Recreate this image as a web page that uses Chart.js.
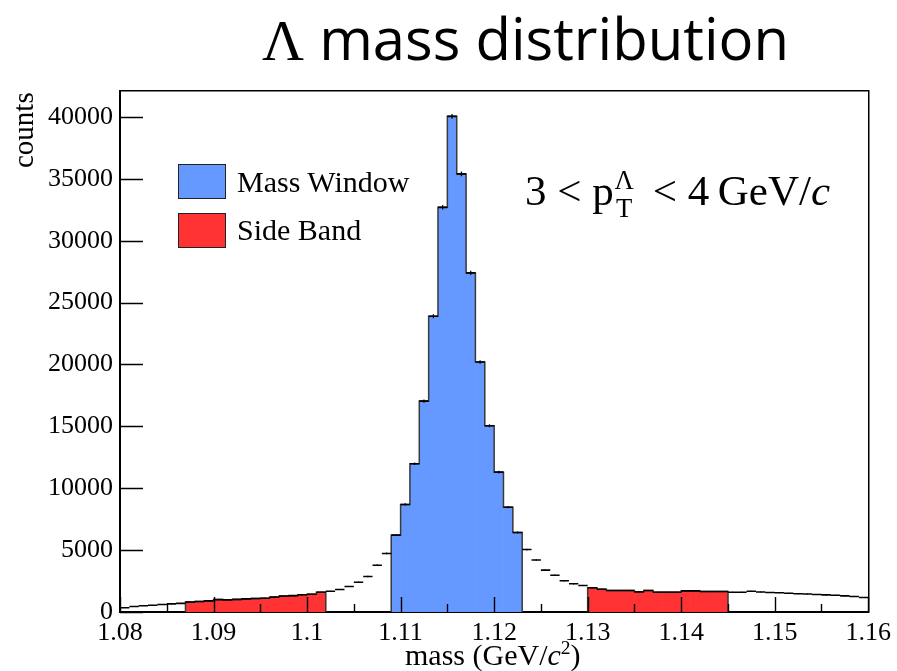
<!DOCTYPE html>
<html>
<head>
<meta charset="utf-8">
<script src="https://cdn.jsdelivr.net/npm/chart.js@4/dist/chart.umd.min.js"></script>
<style>
  html, body { margin: 0; padding: 0; background: #fff; }
  #wrap { position: relative; width: 897px; height: 671px; overflow: hidden; }
  canvas { position: absolute; left: 0; top: 0; }
  .txt { position: absolute; white-space: nowrap; line-height: 1; color: #000; }
  .serif { font-family: "Liberation Serif", "DejaVu Serif", serif; }
  .sans { font-family: "Open Sans", "Noto Sans", sans-serif; }
  .box { position: absolute; border: 1px solid #222; box-sizing: border-box; }
  .ss { display: inline-block; font-size: 0.62em; line-height: 1.05; vertical-align: -0.45em; margin: 0 0.3em 0 0.03em; }
  .ss span { display: block; text-align: center; }
</style>
</head>
<body>
<div id="wrap">
  <canvas id="c" width="897" height="671"></canvas>

  <div class="txt sans" id="title" style="left:262px; top:9px; font-size:58px;"><span class="serif">Λ</span> mass distribution</div>

  <div class="txt serif" id="ylab" style="left:9px; top:168px; font-size:29px; transform-origin:0 0; transform:rotate(-90deg);">counts</div>
  <div class="txt serif" id="xlab" style="left:405px; top:638px; font-size:30px;">mass (GeV/<i>c</i><sup style="font-size:0.65em;">2</sup>)</div>

  <div class="box" style="left:178px; top:164px; width:48px; height:35px; background:#6699ff;"></div>
  <div class="txt serif" style="left:237px; top:167px; font-size:30px;">Mass Window</div>
  <div class="box" style="left:178px; top:213px; width:48px; height:35px; background:#ff3333;"></div>
  <div class="txt serif" style="left:237px; top:215px; font-size:30px;">Side Band</div>

  <div class="txt serif" id="ptlab" style="left:525px; top:166px; font-size:43px;">3 &lt; p<span class="ss"><span>Λ</span><span>T</span></span> &lt; 4&#8201;GeV/<i>c</i></div>
</div>

<script>
// Histogram binning (GeV/c^2)
const histRange = [1.08, 1.16];
const binWidth = 0.001;

// Entries per 1 MeV bin, from 1.080 to 1.160
const counts = [
  340, 450, 500, 550, 600, 660, 700, 800, 850, 900,
  1000, 980, 1020, 1060, 1090, 1110, 1200, 1280, 1320, 1390,
  1430, 1600, 1680, 1820, 2060, 2410, 2870, 3780, 4730,
  6210, 8690, 11980, 17040, 23900, 32700, 40050, 35400, 27400, 20200, 15050, 11300, 8470, 6430,
  5050, 4200, 3380, 2970, 2520, 2280, 2140,
  1960, 1840, 1740, 1740, 1740, 1630, 1740, 1600, 1600, 1600, 1710, 1710, 1660, 1660, 1660,
  1600, 1600, 1680, 1620, 1580, 1550, 1520, 1480, 1450, 1420, 1380, 1350, 1300, 1250, 1170
];

// Selection regions
const massWindow = [1.109, 1.123];
const sideBands = [[1.087, 1.102], [1.130, 1.145]];

// Axis ticks
const xTicks = [1.08, 1.09, 1.10, 1.11, 1.12, 1.13, 1.14, 1.15, 1.16];
const yTicks = [0, 5000, 10000, 15000, 20000, 25000, 30000, 35000, 40000];
const yMax = 42100;

const eps = 1e-9;
const binLo = i => histRange[0] + i * binWidth;
const binHi = i => histRange[0] + (i + 1) * binWidth;
const binMid = i => histRange[0] + (i + 0.5) * binWidth;
const inRange = (i, r) => binLo(i) >= r[0] - eps && binHi(i) <= r[1] + eps;

// Filled bars for a region
function regionBars(ranges) {
  return counts.map((c, i) => ({ x: binMid(i), y: ranges.some(r => inRange(i, r)) ? c : null }));
}

// Stepped outline around a region (left edge, bin tops, right edge)
function regionOutline(ranges) {
  const pts = [];
  ranges.forEach(r => {
    const idx = counts.map((c, i) => i).filter(i => inRange(i, r));
    pts.push({ x: binLo(idx[0]), y: 0 });
    idx.forEach(i => pts.push({ x: binLo(i), y: counts[i] }));
    pts.push({ x: binHi(idx[idx.length - 1]), y: 0 });
    pts.push({ x: binHi(idx[idx.length - 1]), y: null });
  });
  return pts;
}

// Horizontal bin contents for every bin
const binTops = [];
counts.forEach((c, i) => {
  binTops.push({ x: binLo(i), y: c }, { x: binHi(i), y: c }, { x: binHi(i), y: null });
});

// Statistical error bars
const errBars = [];
counts.forEach((c, i) => {
  const e = Math.sqrt(c);
  errBars.push({ x: binMid(i), y: c - e }, { x: binMid(i), y: c + e }, { x: binMid(i), y: null });
});

const serif = '"Liberation Serif", "DejaVu Serif", serif';

// Inward tick marks along the lower and left frame
const innerTicks = {
  id: 'innerTicks',
  afterDatasetsDraw(chart) {
    const { ctx, chartArea: a, scales: { x, y } } = chart;
    ctx.save();
    ctx.strokeStyle = '#000';
    ctx.lineWidth = 1.4;
    ctx.beginPath();
    xTicks.forEach((v, k) => {
      const px = Math.round(x.getPixelForValue(v)) + 0.5;
      ctx.moveTo(px, a.bottom); ctx.lineTo(px, a.bottom - 15);
      if (k < xTicks.length - 1) {
        const pm = Math.round(x.getPixelForValue((v + xTicks[k + 1]) / 2)) + 0.5;
        ctx.moveTo(pm, a.bottom); ctx.lineTo(pm, a.bottom - 8);
      }
    });
    yTicks.forEach(v => {
      const py = Math.round(y.getPixelForValue(v)) + 0.5;
      ctx.moveTo(a.left, py); ctx.lineTo(a.left + 23, py);
    });
    ctx.stroke();
    ctx.restore();
  }
};

new Chart(document.getElementById('c'), {
  type: 'bar',
  data: {
    datasets: [
      { type: 'bar', label: 'Mass Window', data: regionBars([massWindow]), backgroundColor: '#6699ff',
        borderWidth: 0, barPercentage: 1, categoryPercentage: 1, grouped: false, order: 5 },
      { type: 'bar', label: 'Side Band', data: regionBars(sideBands), backgroundColor: '#ff3333',
        borderWidth: 0, barPercentage: 1, categoryPercentage: 1, grouped: false, order: 5 },
      { type: 'line', data: regionOutline([massWindow, ...sideBands]), stepped: 'before', borderColor: '#3a3a3a',
        borderWidth: 1.5, pointRadius: 0, spanGaps: false, fill: false, order: 3 },
      { type: 'line', data: binTops, borderColor: '#000', borderWidth: 1.6, pointRadius: 0,
        spanGaps: false, fill: false, order: 1 },
      { type: 'line', data: errBars, borderColor: '#000', borderWidth: 1.2, pointRadius: 0,
        spanGaps: false, fill: false, order: 1 }
    ]
  },
  options: {
    responsive: false,
    animation: false,
    devicePixelRatio: 1,
    layout: { padding: { left: 0, right: 28, top: 91, bottom: 0 } },
    plugins: { legend: { display: false }, tooltip: { enabled: false }, title: { display: false } },
    scales: {
      x: {
        type: 'linear', position: 'bottom', min: histRange[0], max: histRange[1], offset: false,
        grid: { display: false, drawTicks: false },
        border: { display: true, color: '#000', width: 2 },
        afterBuildTicks: s => { s.ticks = xTicks.map(v => ({ value: v })); },
        afterFit: s => { s.height = 59; },
        ticks: { autoSkip: false, maxRotation: 0, padding: 6, color: '#000',
          font: { family: serif, size: 26 },
          callback: v => String(parseFloat(v.toFixed(3))) }
      },
      y: {
        type: 'linear', position: 'left', min: 0, max: yMax,
        grid: { display: false, drawTicks: false },
        border: { display: true, color: '#000', width: 2 },
        afterBuildTicks: s => { s.ticks = yTicks.map(v => ({ value: v })); },
        afterFit: s => { s.width = 120; },
        ticks: { padding: 7, color: '#000', font: { family: serif, size: 26 }, callback: v => String(v) }
      },
      xTop: {
        type: 'linear', position: 'top', min: histRange[0], max: histRange[1], offset: false,
        grid: { display: false, drawTicks: false },
        border: { display: true, color: '#000', width: 1.5 },
        ticks: { display: false },
        afterFit: s => { s.height = 0; }
      },
      yRight: {
        type: 'linear', position: 'right', min: 0, max: yMax,
        grid: { display: false, drawTicks: false },
        border: { display: true, color: '#000', width: 1.5 },
        ticks: { display: false },
        afterFit: s => { s.width = 0; }
      }
    }
  },
  plugins: [innerTicks]
});
</script>
</body>
</html>
